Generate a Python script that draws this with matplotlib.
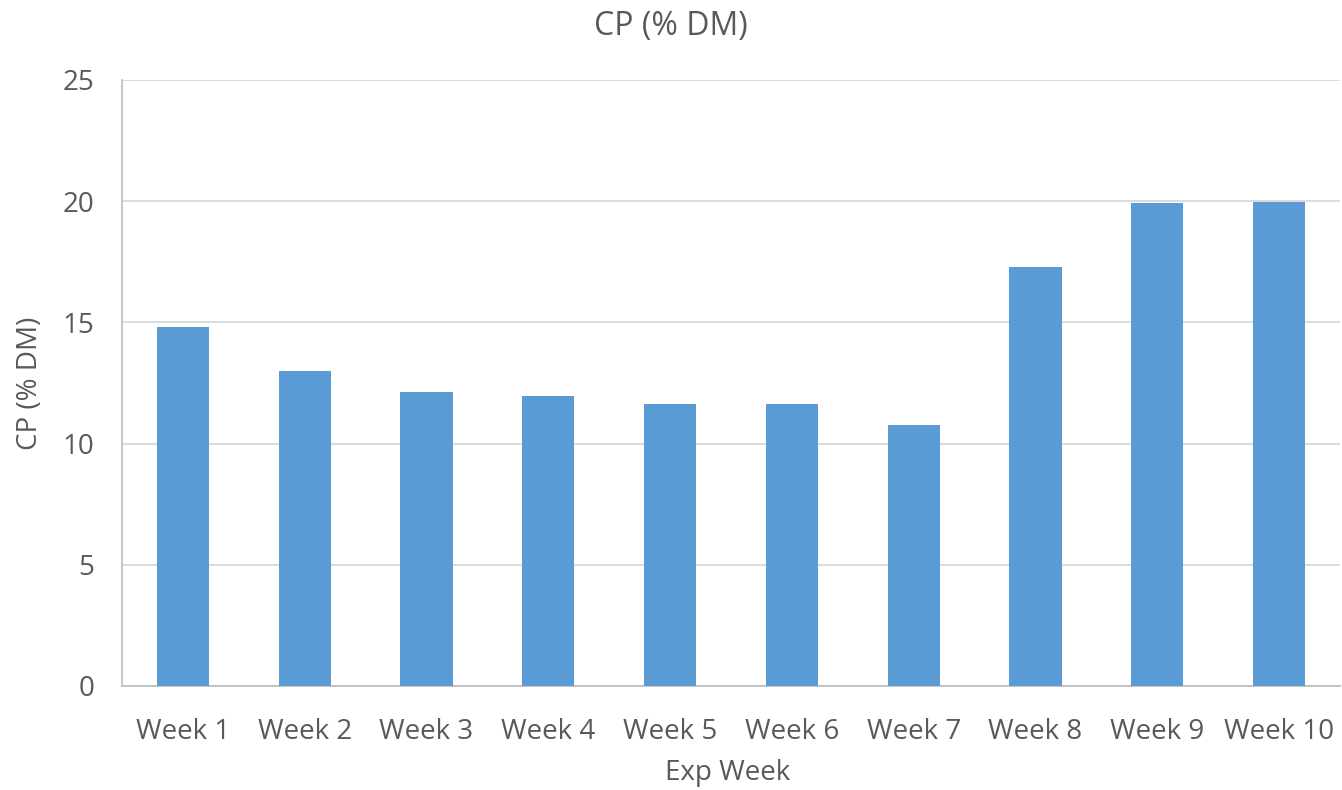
import matplotlib.pyplot as plt

weeks = ["Week 1", "Week 2", "Week 3", "Week 4", "Week 5",
         "Week 6", "Week 7", "Week 8", "Week 9", "Week 10"]
cp = [14.83, 13.01, 12.13, 11.97, 11.65, 11.62, 10.77, 17.29, 19.93, 19.96]

plt.rcParams['font.family'] = ['Open Sans', 'DejaVu Sans']
txt = '#595959'

fig = plt.figure(figsize=(13.42, 7.9), dpi=100)
ax = fig.add_axes([122 / 1342, 1 - 686 / 790, 1218 / 1342, 606 / 790])

x = range(len(weeks))
ax.bar(x, cp, width=0.43, color='#5B9BD5', zorder=3)

ax.set_xlim(-0.5, len(weeks) - 0.5)
ax.set_ylim(0, 25)
ax.set_yticks([0, 5, 10, 15, 20, 25])
ax.set_xticks(list(x))
ax.set_xticklabels(weeks)
ax.grid(axis='y', color='#D9D9D9', linewidth=1.3, zorder=0)

for s in ['top', 'right']:
    ax.spines[s].set_visible(False)
ax.spines['left'].set_color('#BFBFBF')
ax.spines['bottom'].set_color('#BFBFBF')
ax.spines['left'].set_linewidth(1.3)
ax.spines['bottom'].set_linewidth(1.3)

ax.tick_params(axis='both', length=0, labelsize=20, colors=txt)
ax.tick_params(axis='x', pad=23)
ax.tick_params(axis='y', pad=20)

fig.text(0.5, 1 - 27 / 790, "CP (% DM)", fontsize=23, color=txt,
         ha='center', va='center')
ax.set_xlabel("Exp Week", fontsize=20, color=txt)
ax.xaxis.set_label_coords(0.497, -87 / 606)
ax.xaxis.label.set_va('center')
ax.set_ylabel("CP (% DM)", fontsize=20, color=txt)
ax.yaxis.set_label_coords(-92 / 1218, 0.5)
ax.yaxis.label.set_va('center')

fig.savefig("out.png", dpi=100)
